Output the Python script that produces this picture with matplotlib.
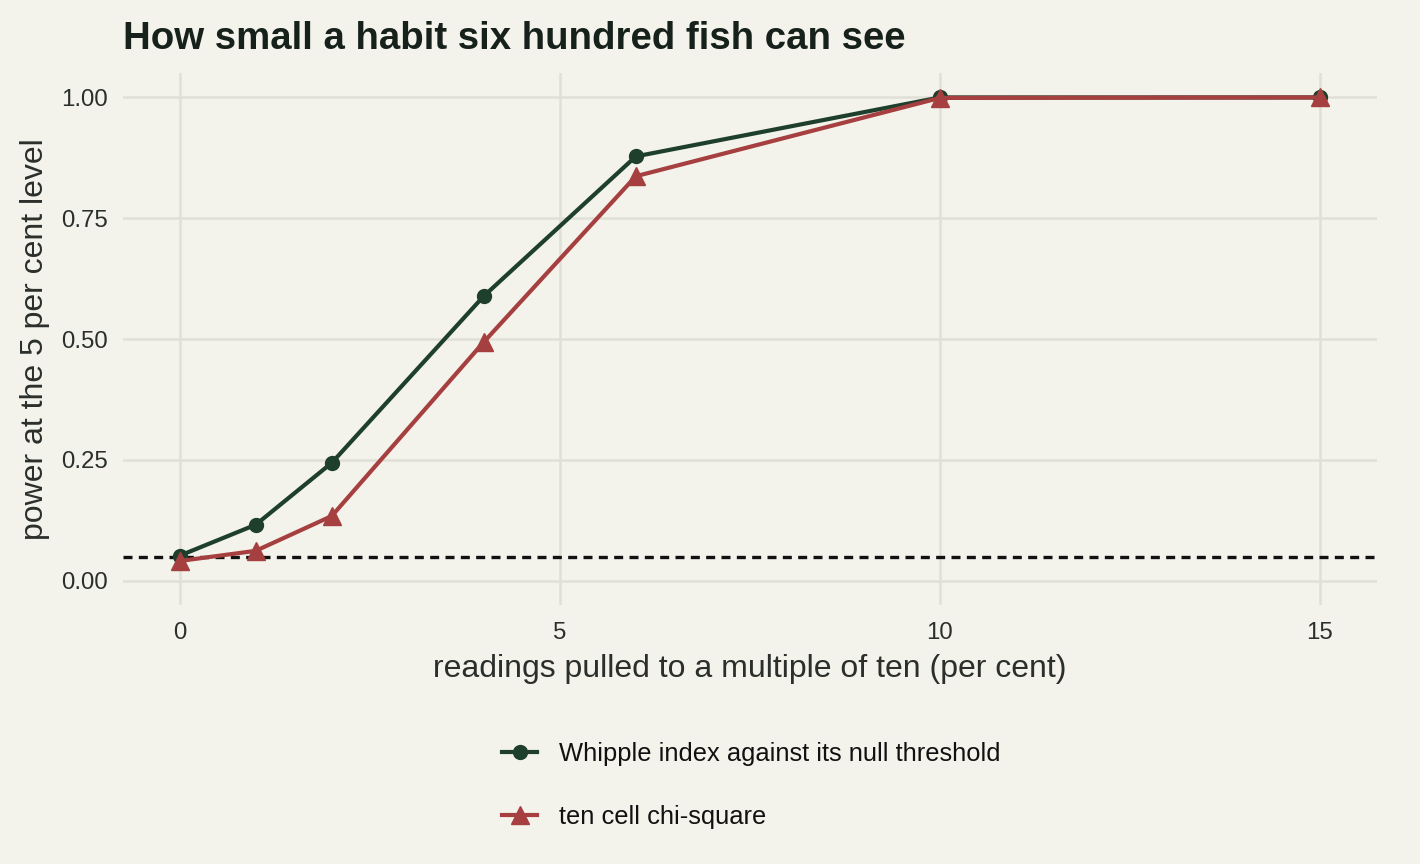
import numpy as np
import matplotlib.pyplot as plt

plt.rcParams['font.family'] = ['Liberation Sans', 'DejaVu Sans']

# share of readings heaped onto multiples of ten (per cent)
heaping = [0, 1, 2, 4, 6, 10, 15]
whipple_power = [0.052, 0.116, 0.244, 0.589, 0.878, 1.0, 1.0]
chisq_power = [0.041, 0.062, 0.134, 0.494, 0.837, 0.999, 1.0]
alpha = 0.05

bg = '#f3f2eb'
grid_c = '#e1e0d7'
green = '#1e3f2b'
red = '#a63f3f'
txt = '#17211b'
lab = '#2a2f2b'

fig = plt.figure(figsize=(14.2, 8.64), dpi=100, facecolor=bg)
ax = fig.add_axes([0.0864, 0.2998, 0.8833, 0.6154], facecolor=bg)

ax.plot(heaping, whipple_power, color=green, lw=3.0, marker='o', ms=10,
        label='Whipple index against its null threshold', zorder=3)
ax.plot(heaping, chisq_power, color=red, lw=3.0, marker='^', ms=13,
        label='ten cell chi-square', zorder=3)
ax.axhline(alpha, color='#111111', lw=2.4, ls=(0, (2.7, 1.9)), zorder=2)

xmin, xmax = min(heaping), max(heaping)
ax.set_xlim(xmin - 0.05 * (xmax - xmin), xmax + 0.05 * (xmax - xmin))
ax.set_ylim(-0.05, 1.05)
ax.set_xticks([0, 5, 10, 15])
ax.set_yticks([0, 0.25, 0.5, 0.75, 1.0])
ax.set_yticklabels(['0.00', '0.25', '0.50', '0.75', '1.00'])

ax.grid(True, color=grid_c, lw=1.8)
ax.set_axisbelow(True)
for s in ax.spines.values():
    s.set_visible(False)
ax.tick_params(length=0, labelsize=17.3, labelcolor=lab)
ax.tick_params(axis='x', pad=12.5)
ax.tick_params(axis='y', pad=11)

ax.set_xlabel('readings pulled to a multiple of ten (per cent)', fontsize=23,
              color=lab, labelpad=7)
ax.set_ylabel('power at the 5 per cent level', fontsize=23,
              color=lab, labelpad=8)

fig.text(0.0866, 1 - 49 / 864, 'How small a habit six hundred fish can see', fontsize=27.6,
         fontweight='bold', color=txt, ha='left', va='baseline')

leg = fig.legend(loc='center', bbox_to_anchor=(0.529, 0.091), frameon=False,
                 fontsize=18.4, handlelength=1.35, labelspacing=1.55, handletextpad=0.85)
for t in leg.get_texts():
    t.set_color('#111111')

fig.savefig('out.png', dpi=100, facecolor=bg)
